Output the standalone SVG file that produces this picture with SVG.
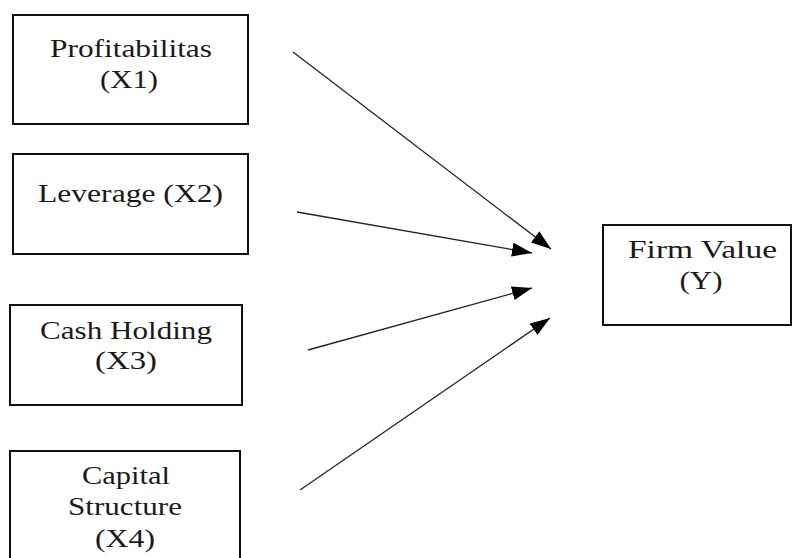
<svg xmlns="http://www.w3.org/2000/svg" width="792" height="558" viewBox="0 0 792 558">
<style>
.box{fill:#fff;stroke:#111;stroke-width:2}
.t{font-family:'Liberation Serif','Times New Roman','DejaVu Serif',serif;font-size:26px;fill:#1a1a1a;text-anchor:middle}
.c{stroke:#222;stroke-width:1.3;fill:none;marker-end:url(#ah)}
</style>
<defs>
<marker id="ah" markerUnits="userSpaceOnUse" markerWidth="22" markerHeight="16" refX="20" refY="7" orient="auto">
<path d="M0,0 L20,7 L0,14 Z" fill="#000"/>
</marker>
</defs>
<rect width="792" height="558" fill="#fff"/>
<g id="x1">
<rect class="box" x="13" y="15" width="235" height="109"/>
<text class="t" x="131" y="57" textLength="162" lengthAdjust="spacingAndGlyphs">Profitabilitas</text>
<text class="t" x="129" y="88" textLength="58" lengthAdjust="spacingAndGlyphs">(X1)</text>
</g>
<g id="x2">
<rect class="box" x="13" y="154" width="235" height="100"/>
<text class="t" x="130.5" y="202" textLength="185" lengthAdjust="spacingAndGlyphs">Leverage (X2)</text>
</g>
<g id="x3">
<rect class="box" x="10" y="305" width="232" height="100"/>
<text class="t" x="126" y="339" textLength="172" lengthAdjust="spacingAndGlyphs">Cash Holding</text>
<text class="t" x="126" y="369" textLength="62" lengthAdjust="spacingAndGlyphs">(X3)</text>
</g>
<g id="x4">
<rect class="box" x="10" y="451" width="230" height="112"/>
<text class="t" x="126" y="484" textLength="88" lengthAdjust="spacingAndGlyphs">Capital</text>
<text class="t" x="125" y="515" textLength="114" lengthAdjust="spacingAndGlyphs">Structure</text>
<text class="t" x="125" y="547" textLength="60" lengthAdjust="spacingAndGlyphs">(X4)</text>
</g>
<g id="y">
<rect class="box" x="603" y="225" width="188" height="100"/>
<text class="t" x="702.5" y="258" textLength="149" lengthAdjust="spacingAndGlyphs">Firm Value</text>
<text class="t" x="701" y="289" textLength="43" lengthAdjust="spacingAndGlyphs">(Y)</text>
</g>
<g id="connectors">
<line class="c" x1="293" y1="52" x2="551" y2="249"/>
<line class="c" x1="297" y1="212" x2="532" y2="253"/>
<line class="c" x1="308" y1="350" x2="532" y2="288"/>
<line class="c" x1="300" y1="490" x2="550" y2="318"/>
</g>
</svg>
